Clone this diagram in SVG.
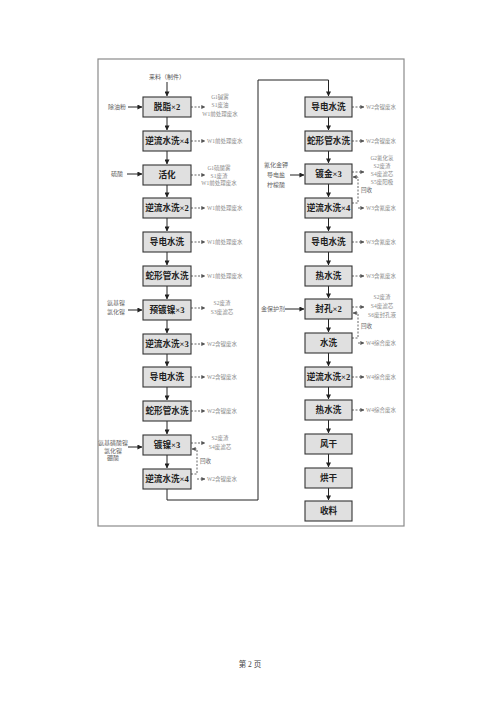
<svg xmlns="http://www.w3.org/2000/svg" width="500" height="707" viewBox="0 0 500 707">
<defs>
<marker id="ah" viewBox="0 0 6 6" refX="5.5" refY="3" markerWidth="5" markerHeight="5" orient="auto" markerUnits="userSpaceOnUse"><path d="M0,0 L6,3 L0,6 z" fill="#222"/></marker>
<marker id="ahg" viewBox="0 0 6 6" refX="5.5" refY="3" markerWidth="4" markerHeight="4" orient="auto" markerUnits="userSpaceOnUse"><path d="M0,0 L6,3 L0,6 z" fill="#555"/></marker>
</defs>
<style>
.box{fill:#e0e0e0;stroke:#333;stroke-width:1.1}
.bt{font-family:"Liberation Serif","Noto Sans CJK SC",serif;font-size:8.6px;font-weight:bold;fill:#222;text-anchor:middle}
.ln{stroke:#222;stroke-width:1;fill:none}
.ds{stroke:#555;stroke-width:0.9;fill:none;stroke-dasharray:2,1.5}
.o{font-family:"Liberation Serif","Noto Sans CJK SC",serif;font-size:5.5px;fill:#8a8a8a}
.oc{font-family:"Liberation Serif","Noto Sans CJK SC",serif;font-size:5.5px;fill:#8a8a8a;text-anchor:middle}
.i{font-family:"Liberation Serif","Noto Sans CJK SC",serif;font-size:6px;fill:#666;text-anchor:middle}
.pg{font-family:"Liberation Serif","Noto Sans CJK SC",serif;font-size:7.5px;fill:#444;text-anchor:middle}
</style>
<rect x="98" y="59" width="306" height="467" fill="none" stroke="#8a8a8a" stroke-width="1.2"/>

<g id="connectors">
<path class="ln" d="M167,82 V96" marker-end="url(#ah)"/>
<path class="ln" d="M167,117 V130" marker-end="url(#ah)"/>
<path class="ln" d="M167,151 V164" marker-end="url(#ah)"/>
<path class="ln" d="M167,185 V197" marker-end="url(#ah)"/>
<path class="ln" d="M167,218 V231" marker-end="url(#ah)"/>
<path class="ln" d="M167,252 V265" marker-end="url(#ah)"/>
<path class="ln" d="M167,286 V299" marker-end="url(#ah)"/>
<path class="ln" d="M167,320 V333" marker-end="url(#ah)"/>
<path class="ln" d="M167,354 V366" marker-end="url(#ah)"/>
<path class="ln" d="M167,387 V400" marker-end="url(#ah)"/>
<path class="ln" d="M167,421 V434" marker-end="url(#ah)"/>
<path class="ln" d="M167,455 V468" marker-end="url(#ah)"/>
<path class="ln" d="M167,489 V500 H258 V80 H328.5 V96" marker-end="url(#ah)"/>
<path class="ln" d="M328.5,117 V130" marker-end="url(#ah)"/>
<path class="ln" d="M328.5,151 V163" marker-end="url(#ah)"/>
<path class="ln" d="M328.5,184 V197" marker-end="url(#ah)"/>
<path class="ln" d="M328.5,218 V231" marker-end="url(#ah)"/>
<path class="ln" d="M328.5,252 V265" marker-end="url(#ah)"/>
<path class="ln" d="M328.5,286 V298" marker-end="url(#ah)"/>
<path class="ln" d="M328.5,319 V332" marker-end="url(#ah)"/>
<path class="ln" d="M328.5,353 V366" marker-end="url(#ah)"/>
<path class="ln" d="M328.5,387 V399" marker-end="url(#ah)"/>
<path class="ln" d="M328.5,420 V433" marker-end="url(#ah)"/>
<path class="ln" d="M328.5,454 V467" marker-end="url(#ah)"/>
<path class="ln" d="M328.5,488 V500" marker-end="url(#ah)"/>
<!-- inputs -->
<path class="ln" d="M128,107 H142" marker-end="url(#ah)"/>
<path class="ln" d="M127,174 H142" marker-end="url(#ah)"/>
<path class="ln" d="M128,310 H142" marker-end="url(#ah)"/>
<path class="ln" d="M128,447 H142" marker-end="url(#ah)"/>
<path class="ln" d="M290,175 H304" marker-end="url(#ah)"/>
<path class="ln" d="M285,309 H304" marker-end="url(#ah)"/>
<!-- outputs left -->
<path class="ds" d="M191,107 H205" marker-end="url(#ahg)"/>
<path class="ds" d="M191,141 H205" marker-end="url(#ahg)"/>
<path class="ds" d="M191,175 H205" marker-end="url(#ahg)"/>
<path class="ds" d="M191,208 H205" marker-end="url(#ahg)"/>
<path class="ds" d="M191,242 H205" marker-end="url(#ahg)"/>
<path class="ds" d="M191,276 H205" marker-end="url(#ahg)"/>
<path class="ds" d="M191,308 H205" marker-end="url(#ahg)"/>
<path class="ds" d="M191,344 H205" marker-end="url(#ahg)"/>
<path class="ds" d="M191,377 H205" marker-end="url(#ahg)"/>
<path class="ds" d="M191,411 H205" marker-end="url(#ahg)"/>
<path class="ds" d="M191,443 H205" marker-end="url(#ahg)"/>
<path class="ds" d="M197,479 H205" marker-end="url(#ahg)"/>
<path class="ds" d="M191,474 H197 V449 H192" marker-end="url(#ahg)"/>
<!-- outputs right -->
<path class="ds" d="M352,107 H364" marker-end="url(#ahg)"/>
<path class="ds" d="M352,141 H364" marker-end="url(#ahg)"/>
<path class="ds" d="M352,172 H364" marker-end="url(#ahg)"/>
<path class="ds" d="M358,208 H364" marker-end="url(#ahg)"/>
<path class="ds" d="M352,203 H358 V177 H353" marker-end="url(#ahg)"/>
<path class="ds" d="M352,242 H364" marker-end="url(#ahg)"/>
<path class="ds" d="M352,276 H364" marker-end="url(#ahg)"/>
<path class="ds" d="M352,307 H364" marker-end="url(#ahg)"/>
<path class="ds" d="M358,343 H364" marker-end="url(#ahg)"/>
<path class="ds" d="M352,338 H358 V313 H353" marker-end="url(#ahg)"/>
<path class="ds" d="M352,377 H364" marker-end="url(#ahg)"/>
<path class="ds" d="M352,410 H364" marker-end="url(#ahg)"/>
</g>

<text class="i" x="167" y="79" style="fill:#555">来料（制件）</text>

<g id="L1"><rect class="box" x="143" y="97" width="48" height="20"/><text class="bt" x="167" y="110">脱脂×2</text></g>
<g id="L2"><rect class="box" x="143" y="131" width="48" height="20"/><text class="bt" x="167" y="144">逆流水洗×4</text></g>
<g id="L3"><rect class="box" x="143" y="165" width="48" height="20"/><text class="bt" x="167" y="178">活化</text></g>
<g id="L4"><rect class="box" x="143" y="198" width="48" height="20"/><text class="bt" x="167" y="211">逆流水洗×2</text></g>
<g id="L5"><rect class="box" x="143" y="232" width="48" height="20"/><text class="bt" x="167" y="245">导电水洗</text></g>
<g id="L6"><rect class="box" x="143" y="266" width="48" height="20"/><text class="bt" x="167" y="279">蛇形管水洗</text></g>
<g id="L7"><rect class="box" x="143" y="300" width="48" height="20"/><text class="bt" x="167" y="313">预镀镍×3</text></g>
<g id="L8"><rect class="box" x="143" y="334" width="48" height="20"/><text class="bt" x="167" y="347">逆流水洗×3</text></g>
<g id="L9"><rect class="box" x="143" y="367" width="48" height="20"/><text class="bt" x="167" y="380">导电水洗</text></g>
<g id="L10"><rect class="box" x="143" y="401" width="48" height="20"/><text class="bt" x="167" y="414">蛇形管水洗</text></g>
<g id="L11"><rect class="box" x="143" y="435" width="48" height="20"/><text class="bt" x="167" y="448">镀镍×3</text></g>
<g id="L12"><rect class="box" x="143" y="469" width="48" height="20"/><text class="bt" x="167" y="482">逆流水洗×4</text></g>

<g id="R1"><rect class="box" x="305" y="97" width="47" height="20"/><text class="bt" x="328.5" y="110">导电水洗</text></g>
<g id="R2"><rect class="box" x="305" y="131" width="47" height="20"/><text class="bt" x="328.5" y="144">蛇形管水洗</text></g>
<g id="R3"><rect class="box" x="305" y="164" width="47" height="20"/><text class="bt" x="328.5" y="177">镀金×3</text></g>
<g id="R4"><rect class="box" x="305" y="198" width="47" height="20"/><text class="bt" x="328.5" y="211">逆流水洗×4</text></g>
<g id="R5"><rect class="box" x="305" y="232" width="47" height="20"/><text class="bt" x="328.5" y="245">导电水洗</text></g>
<g id="R6"><rect class="box" x="305" y="266" width="47" height="20"/><text class="bt" x="328.5" y="279">热水洗</text></g>
<g id="R7"><rect class="box" x="305" y="299" width="47" height="20"/><text class="bt" x="328.5" y="312">封孔×2</text></g>
<g id="R8"><rect class="box" x="305" y="333" width="47" height="20"/><text class="bt" x="328.5" y="346">水洗</text></g>
<g id="R9"><rect class="box" x="305" y="367" width="47" height="20"/><text class="bt" x="328.5" y="380">逆流水洗×2</text></g>
<g id="R10"><rect class="box" x="305" y="400" width="47" height="20"/><text class="bt" x="328.5" y="413">热水洗</text></g>
<g id="R11"><rect class="box" x="305" y="434" width="47" height="20"/><text class="bt" x="328.5" y="447">风干</text></g>
<g id="R12"><rect class="box" x="305" y="468" width="47" height="20"/><text class="bt" x="328.5" y="481">烘干</text></g>
<g id="R13"><rect class="box" x="305" y="501" width="47" height="20"/><text class="bt" x="328.5" y="514">收料</text></g>

<!-- input labels -->
<text class="i" x="117" y="109">除油粉</text>
<text class="i" x="117" y="176">硫酸</text>
<text class="i" x="116" y="305">氨基镍</text>
<text class="i" x="116" y="314">氯化镍</text>
<text class="i" x="113" y="445">氨基磺酸镍</text>
<text class="i" x="113" y="452.5">氯化镍</text>
<text class="i" x="113" y="460">硼酸</text>
<text class="i" x="276" y="167">氰化金钾</text>
<text class="i" x="276" y="177">导电盐</text>
<text class="i" x="276" y="187">柠檬酸</text>
<text class="i" x="273" y="311">金保护剂</text>

<!-- output labels left -->
<text class="oc" x="220" y="99">G1碱雾</text>
<text class="oc" x="220" y="107">S1废油</text>
<text class="oc" x="220" y="116">W1前处理废水</text>
<text class="o" x="207" y="143">W1前处理废水</text>
<text class="oc" x="219" y="170">G1硫酸雾</text>
<text class="oc" x="219" y="177.5">S1废渣</text>
<text class="oc" x="219" y="185">W1前处理废水</text>
<text class="o" x="207" y="210">W1前处理废水</text>
<text class="o" x="207" y="244">W1前处理废水</text>
<text class="o" x="207" y="278">W1前处理废水</text>
<text class="oc" x="222" y="305">S2废渣</text>
<text class="oc" x="222" y="314">S3废滤芯</text>
<text class="o" x="207" y="346">W2含镍废水</text>
<text class="o" x="207" y="379">W2含镍废水</text>
<text class="o" x="207" y="413">W2含镍废水</text>
<text class="oc" x="220" y="440">S2废渣</text>
<text class="oc" x="220" y="449">S4废滤芯</text>
<text class="o" x="200" y="463" style="fill:#666">回收</text>
<text class="o" x="207" y="481">W2含镍废水</text>

<!-- output labels right -->
<text class="o" x="366" y="109">W2含镍废水</text>
<text class="o" x="366" y="143">W2含镍废水</text>
<text class="oc" x="382" y="160">G2氰化氢</text>
<text class="oc" x="382" y="168">S2废渣</text>
<text class="oc" x="382" y="176">S4废滤芯</text>
<text class="oc" x="382" y="184">S5废阳极</text>
<text class="o" x="361" y="192" style="fill:#666">回收</text>
<text class="o" x="366" y="210">W3含氰废水</text>
<text class="o" x="366" y="244">W3含氰废水</text>
<text class="o" x="366" y="278">W3含氰废水</text>
<text class="oc" x="382" y="299">S2废渣</text>
<text class="oc" x="382" y="308">S4废滤芯</text>
<text class="oc" x="382" y="317">S6废封孔液</text>
<text class="o" x="361" y="328" style="fill:#666">回收</text>
<text class="o" x="366" y="345">W4综合废水</text>
<text class="o" x="366" y="379">W4综合废水</text>
<text class="o" x="366" y="412">W4综合废水</text>

<text class="pg" x="250" y="667">第 2 页</text>
</svg>
